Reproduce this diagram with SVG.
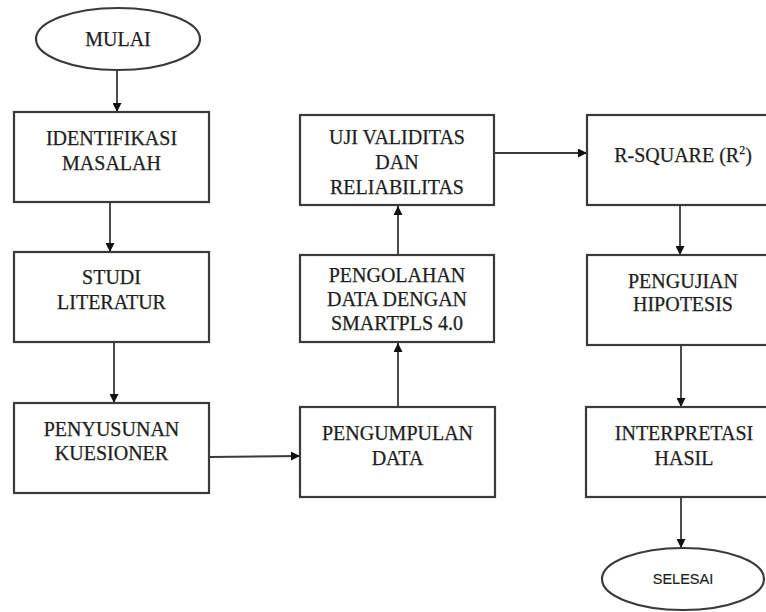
<svg xmlns="http://www.w3.org/2000/svg" width="766" height="612" viewBox="0 0 766 612">
<style>
.box{fill:#fff;stroke:#3a3a3a;stroke-width:2.2}
.t{font-family:"Liberation Serif","Times New Roman","DejaVu Serif",serif;font-size:20px;fill:#1e1e1e;stroke:#1e1e1e;stroke-width:0.25;text-anchor:middle}
.s{font-family:"Liberation Sans",Arial,sans-serif;font-size:14.5px;fill:#1e1e1e;stroke:#1e1e1e;stroke-width:0.2;text-anchor:middle}
.c{stroke:#3a3a3a;stroke-width:1.8;fill:none;marker-end:url(#ah)}
</style>
<defs>
<marker id="ah" viewBox="0 0 10 10" refX="10" refY="5" markerWidth="9" markerHeight="9" markerUnits="userSpaceOnUse" orient="auto">
<path d="M0,0 L10,5 L0,10 z" fill="#111"/>
</marker>
</defs>
<rect width="766" height="612" fill="#fff"/>
<g id="connectors">
<line class="c" x1="117" y1="71" x2="117" y2="112"/>
<line class="c" x1="110" y1="203" x2="110" y2="252"/>
<line class="c" x1="114" y1="343" x2="114" y2="403"/>
<line class="c" x1="210" y1="457" x2="300" y2="456"/>
<line class="c" x1="398" y1="406" x2="398" y2="343"/>
<line class="c" x1="398" y1="255" x2="398" y2="206"/>
<line class="c" x1="495" y1="153" x2="587" y2="153"/>
<line class="c" x1="680" y1="206" x2="680" y2="255"/>
<line class="c" x1="681" y1="346" x2="681" y2="407"/>
<line class="c" x1="681" y1="498" x2="681" y2="548"/>
</g>
<g id="mulai">
<ellipse class="box" cx="118" cy="39" rx="82" ry="31"/>
<text class="t" x="118" y="46">MULAI</text>
</g>
<g id="identifikasi">
<rect class="box" x="14" y="112" width="195" height="90"/>
<text class="t" x="111.5" y="145">IDENTIFIKASI</text>
<text class="t" x="111.5" y="170">MASALAH</text>
</g>
<g id="studi">
<rect class="box" x="14" y="252" width="195" height="90"/>
<text class="t" x="111.5" y="284">STUDI</text>
<text class="t" x="111.5" y="309">LITERATUR</text>
</g>
<g id="penyusunan">
<rect class="box" x="14" y="403" width="195" height="90"/>
<text class="t" x="111.5" y="436">PENYUSUNAN</text>
<text class="t" x="111.5" y="460">KUESIONER</text>
</g>
<g id="pengumpulan">
<rect class="box" x="300" y="407" width="195" height="90"/>
<text class="t" x="397.5" y="440">PENGUMPULAN</text>
<text class="t" x="397.5" y="465">DATA</text>
</g>
<g id="pengolahan">
<rect class="box" x="300" y="255" width="194" height="87"/>
<text class="t" x="397" y="282">PENGOLAHAN</text>
<text class="t" x="397" y="306">DATA DENGAN</text>
<text class="t" x="397" y="330">SMARTPLS 4.0</text>
</g>
<g id="uji">
<rect class="box" x="300" y="115" width="194" height="90"/>
<text class="t" x="397" y="144">UJI VALIDITAS</text>
<text class="t" x="397" y="169">DAN</text>
<text class="t" x="397" y="194">RELIABILITAS</text>
</g>
<g id="rsquare">
<rect class="box" x="587" y="115" width="195" height="90"/>
<text class="t" x="683" y="162">R-SQUARE (R<tspan font-size="12" dy="-8">2</tspan><tspan dy="8">)</tspan></text>
</g>
<g id="pengujian">
<rect class="box" x="587" y="255" width="195" height="90"/>
<text class="t" x="683" y="288">PENGUJIAN</text>
<text class="t" x="683" y="311">HIPOTESIS</text>
</g>
<g id="interpretasi">
<rect class="box" x="586" y="407" width="196" height="90"/>
<text class="t" x="684" y="440">INTERPRETASI</text>
<text class="t" x="684" y="465">HASIL</text>
</g>
<g id="selesai">
<ellipse class="box" cx="683" cy="579" rx="81" ry="31"/>
<text class="s" x="683" y="584">SELESAI</text>
</g>
</svg>
